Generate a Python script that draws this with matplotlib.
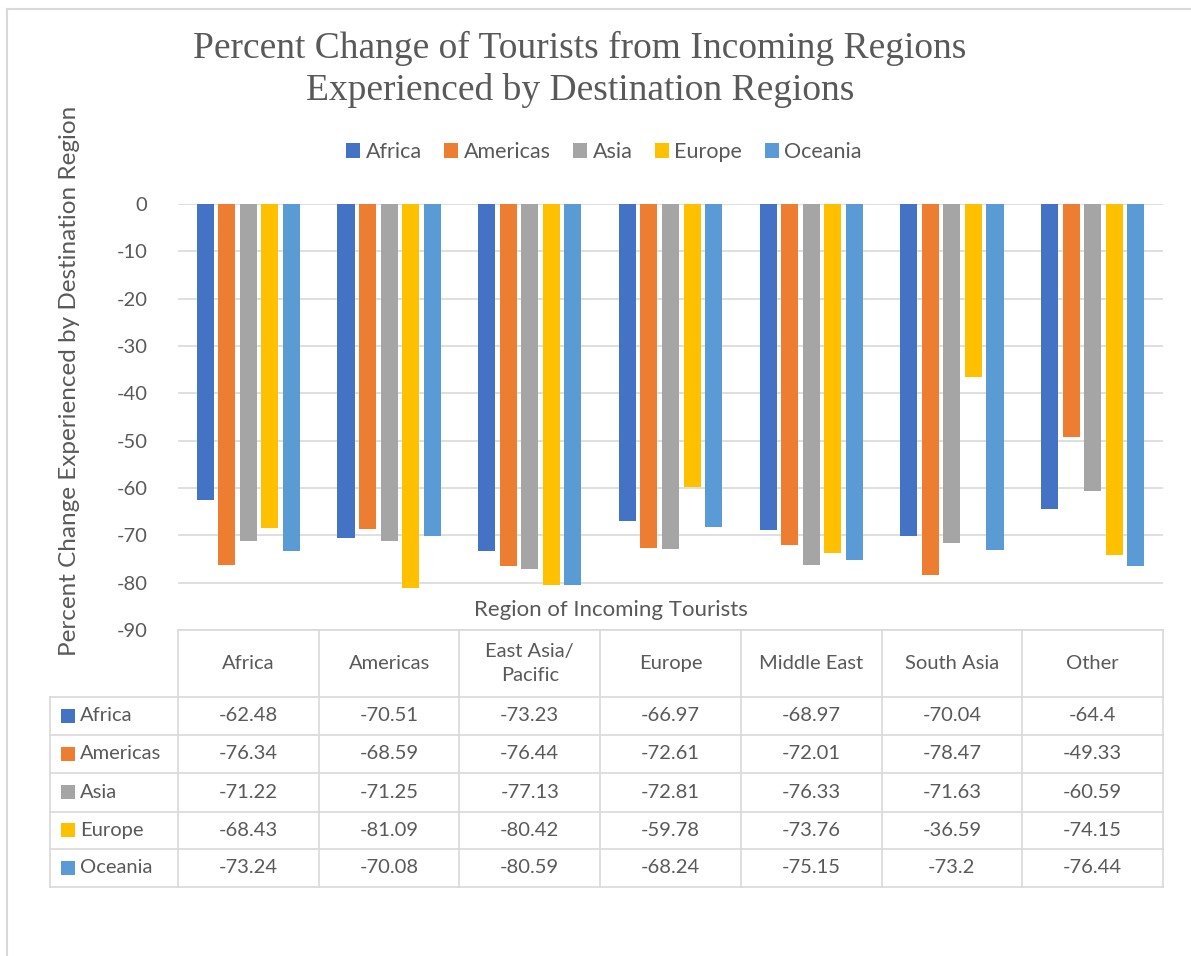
import matplotlib
matplotlib.use("Agg")
import matplotlib.pyplot as plt
from matplotlib.lines import Line2D
from matplotlib.patches import Patch, Rectangle
import matplotlib.transforms as mtransforms
import numpy as np

categories = ["Africa", "Americas", "East Asia/\nPacific", "Europe", "Middle East", "South Asia", "Other"]
series_names = ["Africa", "Americas", "Asia", "Europe", "Oceania"]
africa = [-62.48, -70.51, -73.23, -66.97, -68.97, -70.04, -64.4]
americas = [-76.34, -68.59, -76.44, -72.61, -72.01, -78.47, -49.33]
asia = [-71.22, -71.25, -77.13, -72.81, -76.33, -71.63, -60.59]
europe = [-68.43, -81.09, -80.42, -59.78, -73.76, -36.59, -74.15]
oceania = [-73.24, -70.08, -80.59, -68.24, -75.15, -73.2, -76.44]
series = [africa, americas, asia, europe, oceania]
colors = ["#4472C4", "#ED7D31", "#A5A5A5", "#FFC000", "#5B9BD5"]
yticks = [0, -10, -20, -30, -40, -50, -60, -70, -80, -90]

W, H = 1191, 956
fig = plt.figure(figsize=(W / 100, H / 100), dpi=100)
sans = ["Lato", "DejaVu Sans"]
text_col = "#595959"
grid_col = "#D9D9D9"
fs = 14.5

def fx(px):
    return px / W

def fy(py):
    return 1 - py / H

# plot area
L, R, T, B = 178, 1163, 204, 630
ax = fig.add_axes([fx(L), fy(B), fx(R) - fx(L), fy(T) - fy(B)])
n = len(categories)
x = np.arange(n)
slot = 0.153
bw = 0.121
for i, (vals, c) in enumerate(zip(series, colors)):
    ax.bar(x + (i - 2) * slot, vals, width=bw, color=c, zorder=3)
ax.set_xlim(-0.5, n - 0.5)
ax.set_ylim(-90, 0)
ax.set_yticks(yticks)
ax.set_yticklabels([str(t) for t in yticks], fontsize=fs, color=text_col, family=sans)
ax.tick_params(axis="y", length=0, pad=22)
ax.set_xticks([])
for s in ax.spines.values():
    s.set_visible(False)
ax.grid(axis="y", color=grid_col, linewidth=1.2, zorder=0)
ax.set_axisbelow(True)

# table: x in data coords, y in figure pixels (from top)
ytrans = mtransforms.Affine2D().scale(1 / W, -1 / H).translate(0, 1) + fig.transFigure
xdata_ypix = mtransforms.blended_transform_factory(ax.transData, ytrans)
xpix_ypix = ytrans

row_edges = [630, 697, 735, 773, 812, 849, 887]
lw = 1.2
fig.add_artist(Line2D([-0.5, n - 0.5], [630, 630], transform=xdata_ypix, color=grid_col, lw=lw))
for ry in row_edges[1:]:
    fig.add_artist(Line2D([50, R], [ry, ry], transform=xpix_ypix, color=grid_col, lw=lw))
for j in range(n + 1):
    fig.add_artist(Line2D([j - 0.5, j - 0.5], [630, 887], transform=xdata_ypix, color=grid_col, lw=lw))
fig.add_artist(Line2D([50, 50], [697, 887], transform=xpix_ypix, color=grid_col, lw=lw))

for j, cat in enumerate(categories):
    fig.text(j, 663.5, cat, transform=xdata_ypix, ha="center", va="center",
             fontsize=fs, color=text_col, family=sans, linespacing=1.45)
for i, (name, vals, c) in enumerate(zip(series_names, series, colors)):
    yc = (row_edges[i + 1] + row_edges[i + 2]) / 2
    fig.add_artist(Rectangle((61, yc + 7), 14, -14, transform=xpix_ypix, color=c, lw=0))
    fig.text(80, yc, name, transform=xpix_ypix, ha="left", va="center",
             fontsize=fs, color=text_col, family=sans)
    for j, v in enumerate(vals):
        fig.text(j, yc, f"{v:g}", transform=xdata_ypix, ha="center", va="center",
                 fontsize=fs, color=text_col, family=sans)

# titles
serif = ["Liberation Serif", "DejaVu Serif"]
fig.text(fx(580), fy(48), "Percent Change of Tourists from Incoming Regions", ha="center", va="center",
         fontsize=27, color=text_col, family=serif)
fig.text(fx(580), fy(91), "Experienced by Destination Regions", ha="center", va="center",
         fontsize=27, color=text_col, family=serif)
fig.text(fx(611), fy(610), "Region of Incoming Tourists", ha="center", va="center",
         fontsize=16, color=text_col, family=sans)
fig.text(fx(70), fy(381), "Percent Change Experienced by Destination Region", ha="center", va="center",
         rotation=90, fontsize=17.5, color=text_col, family=sans)

# legend
handles = [Patch(facecolor=c, edgecolor="none") for c in colors]
leg = fig.legend(handles, series_names, loc="center", bbox_to_anchor=(fx(604), fy(152)), ncol=5,
                 frameon=False, handlelength=0.65, handleheight=0.65, handletextpad=0.25,
                 columnspacing=1.05, prop={"family": sans, "size": fs + 1})
for t in leg.get_texts():
    t.set_color(text_col)

# chart border
fig.add_artist(Line2D([7, 7], [9, H], transform=xpix_ypix, color=grid_col, lw=1.5))
fig.add_artist(Line2D([7, W], [9, 9], transform=xpix_ypix, color=grid_col, lw=1.5))

fig.savefig("out.png", dpi=100)
